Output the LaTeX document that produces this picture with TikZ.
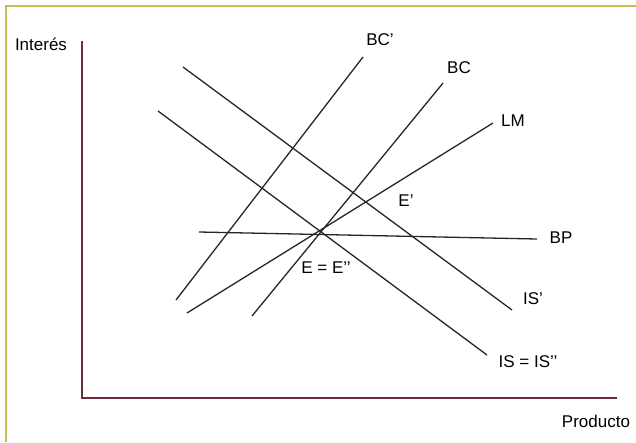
\documentclass[tikz,border=0pt]{standalone}
\usepackage{fontspec}
\setmainfont{Liberation Sans}
\definecolor{frameolive}{HTML}{C9BC52}
\definecolor{axisred}{HTML}{6E2C36}
\begin{document}
\begin{tikzpicture}[x=1pt, y=-1pt,
    curve/.style={draw=black!85, line width=1.3pt},
    lbl/.style={font=\fontsize{17}{19}\selectfont, inner sep=0pt}]
    \useasboundingbox (0,0) rectangle (636,442);
    % Frame (left and top only)
    \draw[frameolive, line width=2pt] (6,442) -- (6,6) -- (636,6);

    % Axes
    \coordinate (origin) at (82,398);
    \coordinate (ytop) at (82,41);
    \coordinate (xend) at (617,398);
    \draw[axisred, line width=2pt] (ytop) -- (origin) -- (xend);
    \node[lbl] (yname) at (41,44) {Interés};
    \node[lbl] (xname) at (596,421) {Producto};

    % Curves: name/lower end/upper end
    \foreach \name/\xa/\ya/\xb/\yb in {bcp/176/300/363/57, bc/252/316/443/83,
        lm/187/313/493/123, isp/183/67/512/310, is/158/111/487/355,
        bp/199/232/537/239} {
        \coordinate (\name a) at (\xa,\ya);
        \coordinate (\name b) at (\xb,\yb);
        \draw[curve] (\name a) -- (\name b);
    }

    % Labels
    \node[lbl] (bcplbl) at (380,40) {BC’};
    \node[lbl] (bclbl) at (459,68) {BC};
    \node[lbl] (lmlbl) at (513,121) {LM};
    \node[lbl] (bplbl) at (561,238) {BP};
    \node[lbl] (isplbl) at (533,299) {IS’};
    \node[lbl] (islbl) at (528,362) {IS = IS’’};
    \node[lbl] (eplbl) at (406,201) {E’};
    \node[lbl] (elbl) at (326,268) {E = E’’};
\end{tikzpicture}
\end{document}
